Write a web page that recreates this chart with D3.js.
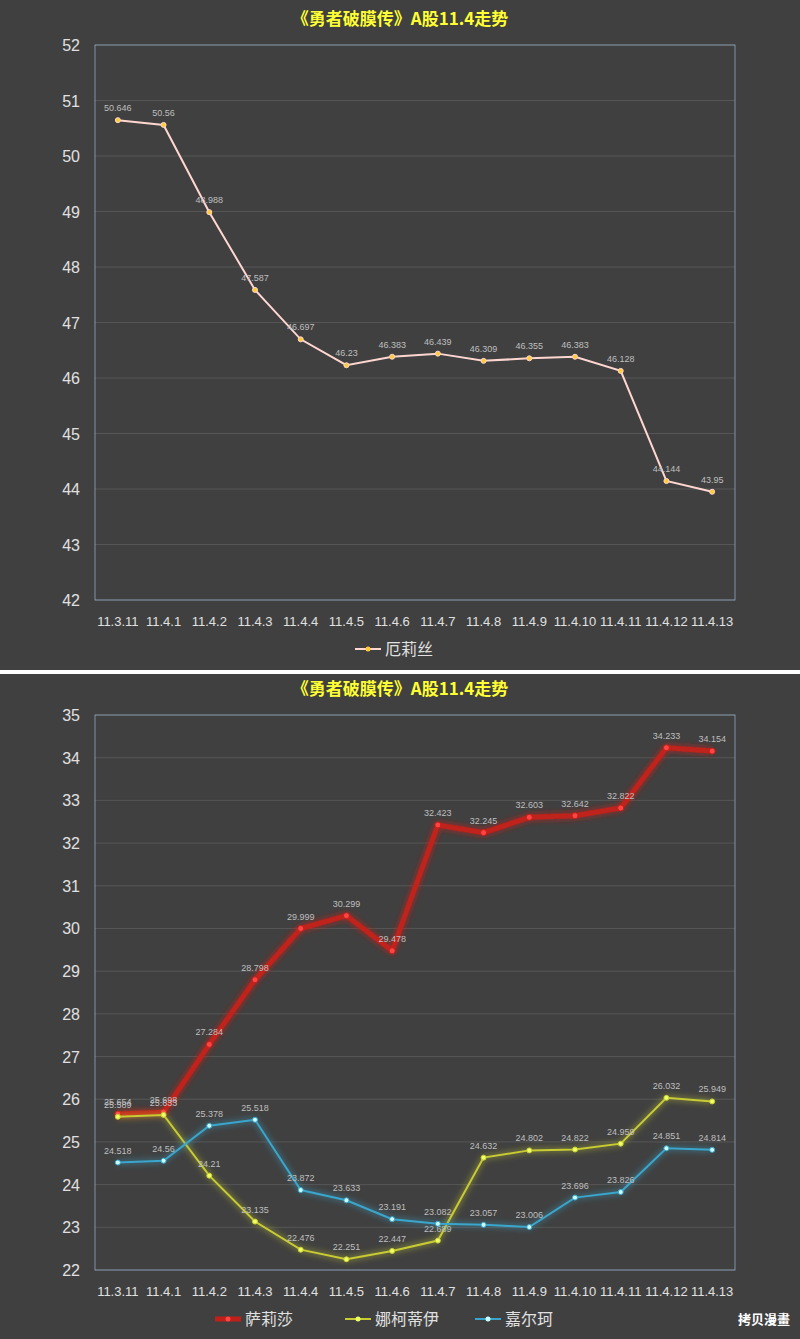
<!DOCTYPE html><html><head><meta charset="utf-8"><script src="https://cdn.jsdelivr.net/npm/d3@7"></script>
<style>body{margin:0;background:#fff}svg{display:block}</style></head><body><script>
const dates=["11.3.11","11.4.1","11.4.2","11.4.3","11.4.4","11.4.5","11.4.6","11.4.7","11.4.8","11.4.9","11.4.10","11.4.11","11.4.12","11.4.13"];
const aliceName="厄莉丝";
const alice=[50.646,50.56,48.988,47.587,46.697,46.23,46.383,46.439,46.309,46.355,46.383,46.128,44.144,43.95];
const salisha=[25.654,25.698,27.284,28.798,29.999,30.299,29.478,32.423,32.245,32.603,32.642,32.822,34.233,34.154];
const nake=[25.589,25.633,24.21,23.135,22.476,22.251,22.447,22.689,24.632,24.802,24.822,24.959,26.032,25.949];
const jiaer=[24.518,24.56,25.378,25.518,23.872,23.633,23.191,23.082,23.057,23.006,23.696,23.826,24.851,24.814];
const topTicks=d3.range(42,53), botTicks=d3.range(22,36);
const title="《勇者破膜传》A股11.4走势";
const svg=d3.select("body").append("svg").attr("width",800).attr("height",1339);
const defs=svg.append("defs");
const f=defs.append("filter").attr("id","glow").attr("x","-10%").attr("y","-10%").attr("width","120%").attr("height","120%");
f.append("feGaussianBlur").attr("in","SourceGraphic").attr("stdDeviation",3).attr("result","b");
const m=f.append("feMerge");m.append("feMergeNode").attr("in","b");m.append("feMergeNode").attr("in","SourceGraphic");
function panel(y0,h,ticks,series,yTop,yBot){
  const g=svg.append("g").attr("transform",`translate(0,${y0})`);
  g.append("rect").attr("width",800).attr("height",h).attr("fill","#404040");
  g.append("text").attr("x",400).attr("y",yTop-20).attr("text-anchor","middle").attr("fill","#ffff33").attr("font-size",17).attr("font-weight","bold").attr("font-family","Noto Sans CJK SC").text(title);
  const x=d3.scalePoint().domain(dates).range([95,735]).padding(0.5);
  const y=d3.scaleLinear().domain([ticks[0],ticks[ticks.length-1]]).range([yBot,yTop]);
  g.selectAll(".gl").data(ticks).join("line").attr("x1",95).attr("x2",735).attr("y1",d=>y(d)).attr("y2",d=>y(d)).attr("stroke","#565656");
  g.append("rect").attr("x",95).attr("y",yTop).attr("width",640).attr("height",yBot-yTop).attr("fill","none").attr("stroke","#8fa9c4").attr("stroke-width",0.8);
  g.selectAll(".yt").data(ticks).join("text").attr("x",80).attr("y",d=>y(d)+6).attr("text-anchor","end").attr("fill","#e0e0e0").attr("font-size",16).attr("font-family","Liberation Sans").text(d=>d);
  g.selectAll(".xt").data(dates).join("text").attr("x",d=>x(d)).attr("y",yBot+26).attr("text-anchor","middle").attr("fill","#e0e0e0").attr("font-size",13).attr("font-family","Liberation Sans").text(d=>d);
  const line=d3.line().x((d,i)=>x(dates[i])).y(d=>y(d));
  series.forEach(s=>{
    g.append("path").attr("d",line(s.v)).attr("fill","none").attr("stroke",s.c).attr("stroke-width",s.w).attr("filter",s.glow?"url(#glow)":null);
    g.selectAll(null).data(s.v).join("circle").attr("cx",(d,i)=>x(dates[i])).attr("cy",d=>y(d)).attr("r",s.r).attr("fill",s.dot).attr("stroke",s.c).attr("stroke-width",1);
    g.selectAll(null).data(s.v).join("text").attr("x",(d,i)=>x(dates[i])).attr("y",d=>y(d)-9).attr("text-anchor","middle").attr("fill","#bfbfbf").attr("font-size",9).attr("font-family","Liberation Sans").text(d=>d);
  });
  const lw=series.length===1?[400]:[260,390,520];
  series.forEach((s,i)=>{
    const lx=lw[i]-45,ly=yBot+54;
    g.append("line").attr("x1",lx).attr("x2",lx+26).attr("y1",ly-5).attr("y2",ly-5).attr("stroke",s.c).attr("stroke-width",s.w);
    g.append("circle").attr("cx",lx+13).attr("cy",ly-5).attr("r",2.5).attr("fill",s.dot);
    g.append("text").attr("x",lx+30).attr("y",ly+1).attr("fill","#e0e0e0").attr("font-size",16).attr("font-family","Noto Sans CJK SC").text(s.n);
  });
  return g;
}
panel(0,670,topTicks,[{n:aliceName,v:alice,c:"#ffd6d0",w:2,r:2.5,dot:"#ffcc33"}],45,600);
const g2=panel(674,665,botTicks,[
 {n:"萨莉莎",v:salisha,c:"#c0201a",w:5,r:3,dot:"#ff4444",glow:true},
 {n:"娜柯蒂伊",v:nake,c:"#c8cc33",w:2,r:2.5,dot:"#eeff66",glow:true},
 {n:"嘉尔珂",v:jiaer,c:"#3aa6cc",w:2,r:2.5,dot:"#ccffff",glow:true}],41,596);
g2.append("text").attr("x",790).attr("y",650).attr("text-anchor","end").attr("fill","#fff").attr("font-size",13).attr("font-weight","bold").attr("font-family","Noto Sans CJK SC").text("拷贝漫畫");
</script></body></html>
